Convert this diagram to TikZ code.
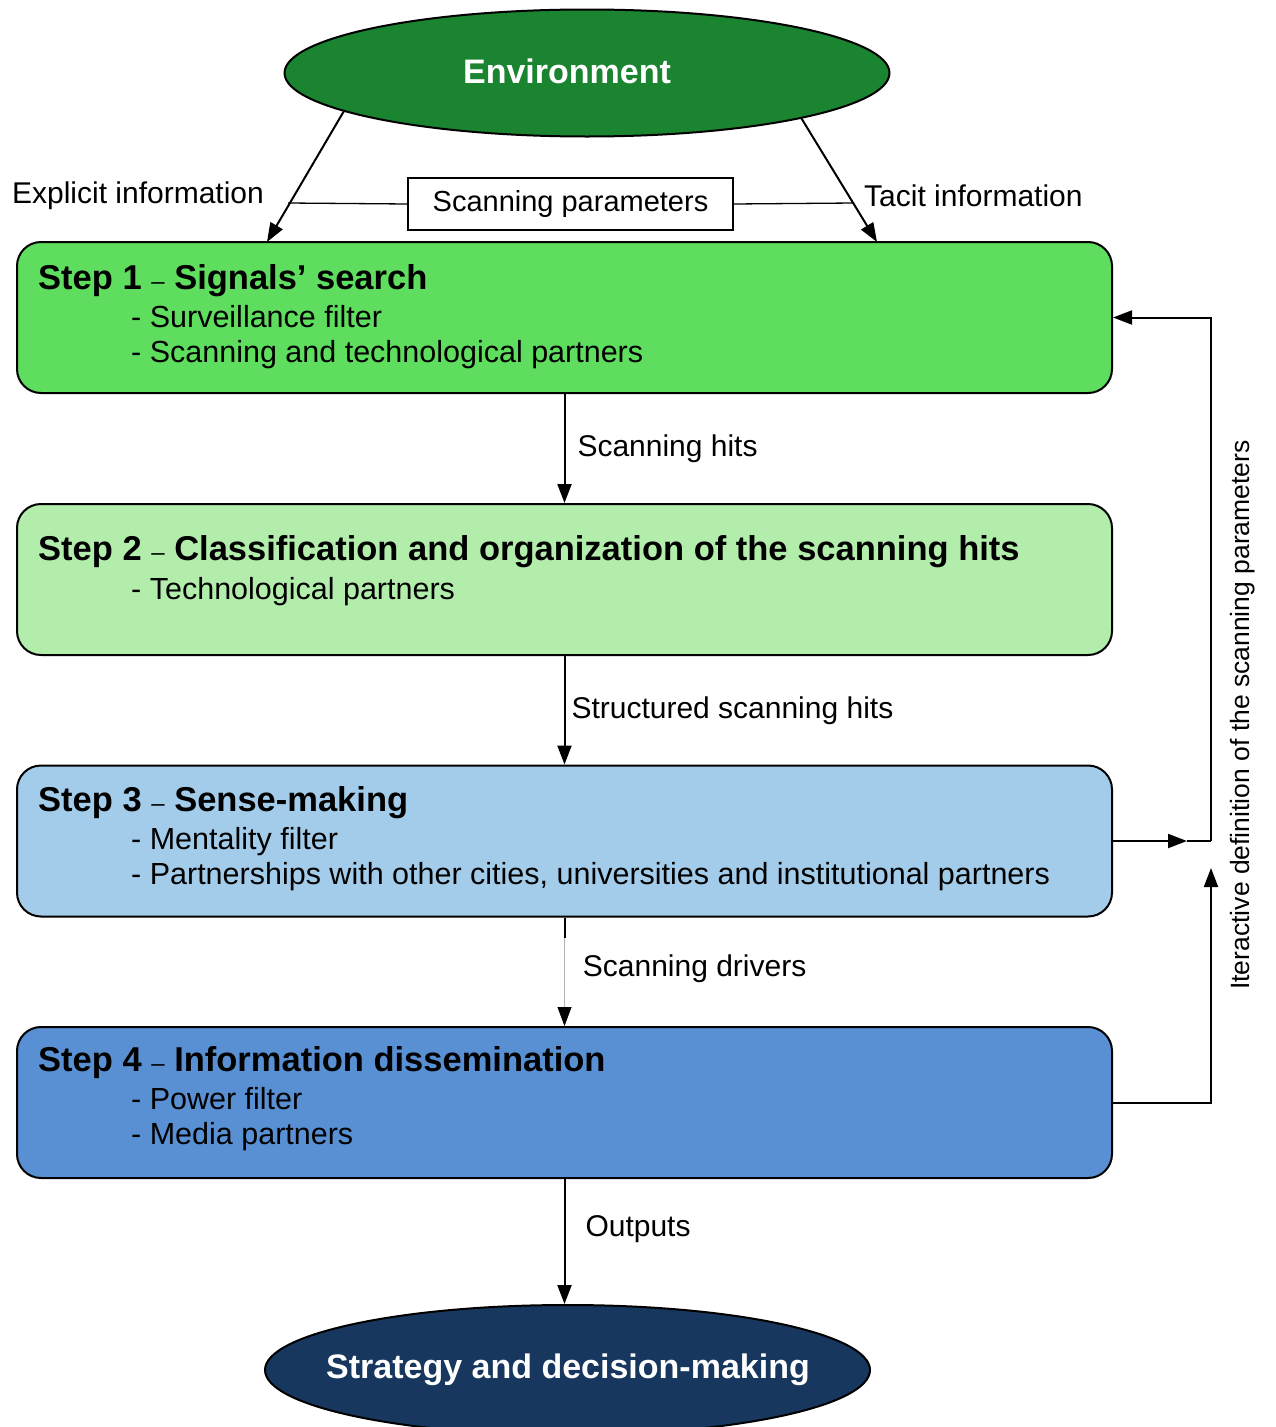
\documentclass[tikz,border=0pt]{standalone}
\usepackage{fontspec}
\setmainfont{Liberation Sans}
\usetikzlibrary{arrows.meta,positioning,shapes.geometric,calc}
\definecolor{envgreen}{RGB}{27,132,48}
\definecolor{stepone}{RGB}{94,221,94}
\definecolor{steptwo}{RGB}{179,237,172}
\definecolor{stepthree}{RGB}{163,204,235}
\definecolor{stepfour}{RGB}{88,144,211}
\definecolor{stratblue}{RGB}{23,55,94}
\newcommand{\stepdash}{{\fontsize{24}{30}\selectfont –}}

\begin{document}
\begin{tikzpicture}[x=1pt,y=-1pt,
  stepbox/.style={draw=black,line width=2pt,rounded corners=24pt,minimum width=1095pt,minimum height=151pt,inner sep=0pt},
  oval/.style={ellipse,draw=black,line width=2pt,minimum width=605pt,minimum height=127pt,inner sep=0pt},
  ovaltext/.style={inner sep=0pt,text=white,font=\fontsize{34}{40}\selectfont\bfseries},
  title/.style={anchor=west,inner sep=0pt,font=\fontsize{34.5}{40}\selectfont},
  items/.style={anchor=north west,inner sep=0pt,align=left,font=\fontsize{30.5}{35}\selectfont},
  lbl/.style={inner sep=0pt,font=\fontsize{30}{35}\selectfont},
  arr/.style={-{Triangle[length=19pt,width=14pt]},line width=2pt}]
\useasboundingbox (0,0) rectangle (1275,1427);
% \draw[help lines] (0,0) grid[step=100] (1275,1427);
\node (env) [oval,fill=envgreen] at (587,73) {};
\node (envtxt) [ovaltext] at (567,71) {Environment};
\node (s1) [stepbox,fill=stepone] at (564.5,317.5) {};
\node (s2) [stepbox,fill=steptwo] at (564.5,579.5) {};
\node (s3) [stepbox,fill=stepthree] at (564.5,841) {};
\node (s4) [stepbox,fill=stepfour] at (564.5,1102.5) {};
\node (strat) [oval,fill=stratblue,minimum height=130pt] at (567.5,1370) {};
\node (strattxt) [ovaltext] at (568,1370) {Strategy and decision-making};
%
\node (t1) [title] at (38,281) {\textbf{Step 1} \stepdash{} \textbf{Signals’ search}};
\node (l1) [items] at (131,305) {- Surveillance filter\\- Scanning and technological partners};
\node (t2) [title] at (38,552) {\textbf{Step 2} \stepdash{} \textbf{Classification and organization of the scanning hits}};
\node (l2) [items] at (131,577) {- Technological partners};
\node (t3) [title] at (38,803) {\textbf{Step 3} \stepdash{} \textbf{Sense-making}};
\node (l3) [items] at (131,827) {- Mentality filter\\- Partnerships with other cities, universities and institutional partners};
\node (t4) [title] at (38,1063) {\textbf{Step 4} \stepdash{} \textbf{Information dissemination}};
\node (l4) [items] at (131,1087) {- Power filter\\- Media partners};
%
\node (par) [draw=black,line width=1.3pt,minimum width=325pt,minimum height=52pt,inner sep=0pt,font=\fontsize{29}{33}\selectfont] at (570.5,204) {Scanning parameters};
\node (expl) [lbl] at (138,196) {Explicit information};
\node (tacit) [lbl,anchor=west] at (864,196) {Tacit information};
\coordinate (ex) at (267,242);
\coordinate (tc) at (877,242);
\coordinate (jl) at (288,203);
\coordinate (jr) at (854,203);
\path[arr]
(env.189) edge (ex)
(env.-12) edge (tc)
(s1.south) edge node[lbl,anchor=west,xshift=12pt] {Scanning hits} (s2.north)
(s2.south) edge node[lbl,anchor=west,xshift=6pt] {Structured scanning hits} (s3.north)
(s4.south) edge node[lbl,anchor=west,xshift=20pt,yshift=12pt] {Outputs} (s4.south |- strat.north)
;
\draw[line width=1.3pt] (par.west) -- (jl) (par.east) -- (jr);
\draw[-{Triangle[length=19pt,width=14pt,color=black]},draw=gray!60,line width=0.8pt] (s3.south) -- node[lbl,anchor=west,xshift=18pt,yshift=3pt] {Scanning drivers} (s4.north);
\draw[line width=2pt] (s3.south) -- ++(0,20);
% feedback loop
\coordinate (fb) at (1211,841);
\coordinate (mid) at (1187,841);
\coordinate (up) at (1211,868);
\draw[arr] (s3.east) -- (mid);
\draw[line width=2pt] (mid) -- (fb);
\draw[arr] (s4.east) -| (up);
\draw[arr] (fb) |- (s1.east);
\node (iter) [lbl,rotate=90,font=\fontsize{26.5}{30}\selectfont] at (1243,715) {Iteractive definition of the scanning parameters};
\end{tikzpicture}
\end{document}
